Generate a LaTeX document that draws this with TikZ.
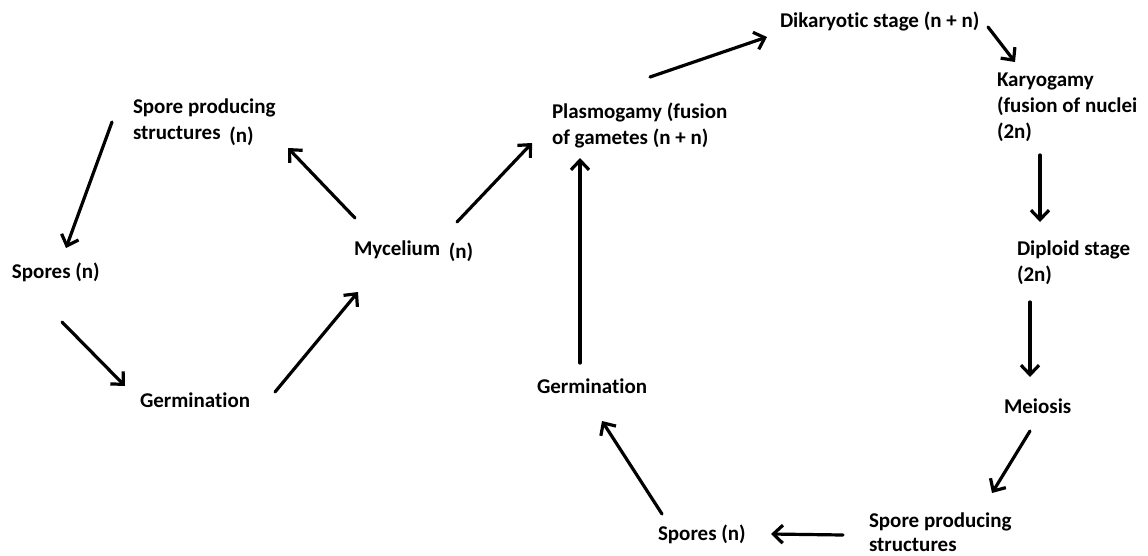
\documentclass[tikz,border=0pt]{standalone}
\usepackage{fontspec}
\setmainfont{Carlito}[Ligatures={NoCommon}]
\usetikzlibrary{arrows.meta}
\newcommand\twolines[2]{\vtop{\hbox{#1}\hbox{#2}}}
\newcommand\threelines[3]{\vtop{\hbox{#1}\hbox{#2}\hbox{#3}}}
\begin{document}
\begin{tikzpicture}[x=1pt,y=-1pt,
  lbl/.style={inner sep=0pt,outer sep=0pt,anchor=base west,align=left,
    font=\fontsize{21}{26}\selectfont\bfseries},
  arr/.style={line width=3.2pt,line cap=round,
    -{Straight Barb[length=9.5pt,width=18pt,line width=3.2pt]}}]
\useasboundingbox[fill=white] (0,0) rectangle (1148,555);
% nodes
\node[lbl] (spl) at (133,113) {\twolines{Spore producing}{structures\hspace{4pt} \raisebox{-3pt}{(n)}}};
\node[lbl] (spa) at (12,278) {Spores (n)};
\node[lbl] (gea) at (140,407) {Germination};
\node[lbl] (my) at (354,255) {Mycelium\hspace{4pt} \raisebox{-3pt}{(n)}};
\node[lbl] (pl) at (552,118) {\twolines{Plasmogamy (fusion}{of gametes (n + n)}};
\node[lbl] (dk) at (780,27) {Dikaryotic stage (n + n)};
\node[lbl] (ka) at (997,86) {\threelines{Karyogamy}{(fusion of nuclei}{(2n)}};
\node[lbl] (di) at (1017,255) {\twolines{Diploid stage}{(2n)}};
\node[lbl] (me) at (1004,413) {Meiosis};
\node[lbl,font=\fontsize{21}{24}\selectfont\bfseries] (spr) at (869,527) {\twolines{Spore producing}{structures}};
\node[lbl] (spb) at (658,540) {Spores (n)};
\node[lbl] (geb) at (537,393) {Germination};
% arrows (offsets relative to base west of the named nodes)
\draw[arr] ([shift={(-21,9)}]spl.base west) -- ([shift={(54,-30)}]spa.base west);
\draw[arr] ([shift={(50,44)}]spa.base west) -- ([shift={(-15,-21)}]gea.base west);
\draw[arr] ([shift={(135,-15)}]gea.base west) -- ([shift={(4,37)}]my.base west);
\draw[arr] ([shift={(1,-37)}]my.base west) -- ([shift={(155,35)}]spl.base west);
\draw[arr] ([shift={(103,-33)}]my.base west) -- ([shift={(-20,25)}]pl.base west);
\draw[arr] ([shift={(98,-41)}]pl.base west) -- ([shift={(-13,10)}]dk.base west);
\draw[arr] ([shift={(208,0)}]dk.base west) -- ([shift={(18,-24)}]ka.base west);
\draw[arr] ([shift={(43,69)}]ka.base west) -- ([shift={(23,-33)}]di.base west);
\draw[arr] ([shift={(13,47)}]di.base west) -- ([shift={(26,-36)}]me.base west);
\draw[arr] ([shift={(26,18)}]me.base west) -- ([shift={(123,-34)}]spr.base west);
\draw[arr] ([shift={(-26,8)}]spr.base west) -- ([shift={(113,-6)}]spb.base west);
\draw[arr] ([shift={(4,-26)}]spb.base west) -- ([shift={(65,28)}]geb.base west);
\draw[arr] ([shift={(43,-30)}]geb.base west) -- ([shift={(43,-235)}]geb.base west);
\end{tikzpicture}
\end{document}
